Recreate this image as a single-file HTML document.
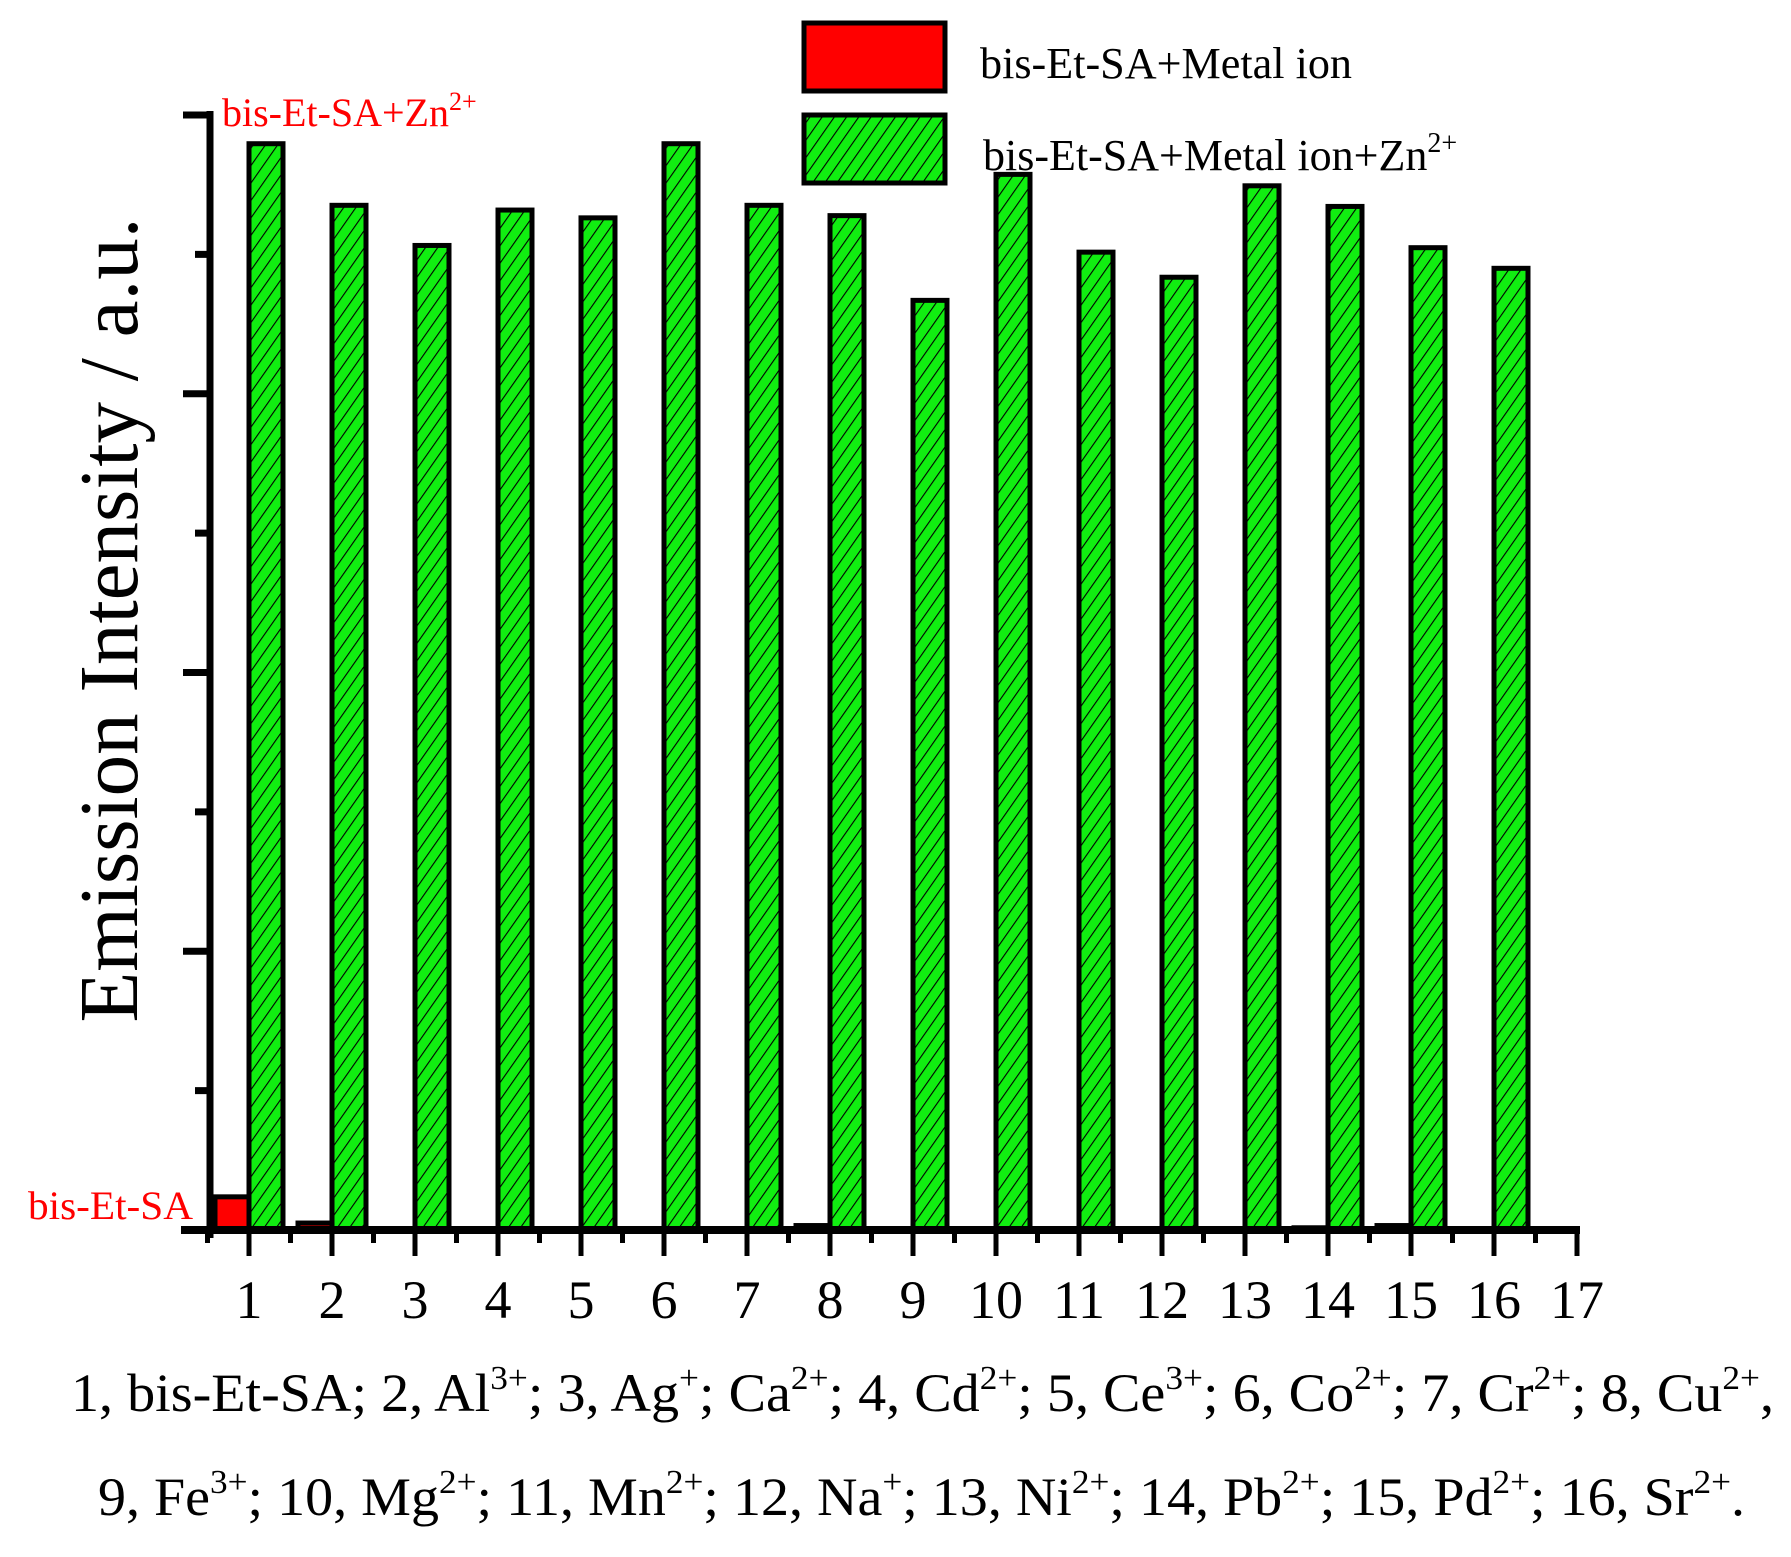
<!DOCTYPE html>
<html><head><meta charset="utf-8"><style>
body{margin:0;background:#fff}
svg{display:block;font-family:"Liberation Serif",serif}
</style></head><body>
<svg id="chart" width="1791" height="1557" viewBox="0 0 1791 1557" xmlns="http://www.w3.org/2000/svg">
<defs>
<pattern id="hatch" patternUnits="userSpaceOnUse" width="10" height="10" patternTransform="rotate(35)">
<rect width="10" height="10" fill="#11ee11"/>
<line x1="0" y1="0" x2="0" y2="10" stroke="#000" stroke-width="2.2"/>
</pattern>
</defs>
<g id="bars"></g>
<g id="axes"></g>
<text transform="translate(137,620) rotate(-90)" text-anchor="middle" font-size="84" textLength="805" lengthAdjust="spacingAndGlyphs">Emission Intensity / a.u.</text>
<text x="222" y="126" fill="#ff0000" font-size="40">bis-Et-SA+Zn<tspan dy="-16" font-size="26">2+</tspan></text>
<text x="28" y="1219" fill="#ff0000" font-size="40" textLength="165" lengthAdjust="spacingAndGlyphs">bis-Et-SA</text>
<g>
<rect x="804" y="23" width="141" height="68" fill="#ff0000" stroke="#000" stroke-width="5"/>
<text x="980" y="78" font-size="44" textLength="372" lengthAdjust="spacingAndGlyphs">bis-Et-SA+Metal ion</text>
<rect x="804" y="115" width="141" height="68" fill="url(#hatch)" stroke="#000" stroke-width="5"/>
<text x="983" y="170" font-size="44">bis-Et-SA+Metal ion+Zn<tspan dy="-18" font-size="28">2+</tspan></text>
</g>
<g font-size="54">
<text x="71" y="1411" textLength="1703" lengthAdjust="spacingAndGlyphs">1, bis-Et-SA; 2, Al<tspan dy="-22" font-size="34">3+</tspan><tspan dy="22">; 3, Ag</tspan><tspan dy="-22" font-size="34">+</tspan><tspan dy="22">; Ca</tspan><tspan dy="-22" font-size="34">2+</tspan><tspan dy="22">; 4, Cd</tspan><tspan dy="-22" font-size="34">2+</tspan><tspan dy="22">; 5, Ce</tspan><tspan dy="-22" font-size="34">3+</tspan><tspan dy="22">; 6, Co</tspan><tspan dy="-22" font-size="34">2+</tspan><tspan dy="22">; 7, Cr</tspan><tspan dy="-22" font-size="34">2+</tspan><tspan dy="22">; 8, Cu</tspan><tspan dy="-22" font-size="34">2+</tspan><tspan dy="22">,</tspan></text>
<text x="98" y="1515" textLength="1647" lengthAdjust="spacingAndGlyphs">9, Fe<tspan dy="-22" font-size="34">3+</tspan><tspan dy="22">; 10, Mg</tspan><tspan dy="-22" font-size="34">2+</tspan><tspan dy="22">; 11, Mn</tspan><tspan dy="-22" font-size="34">2+</tspan><tspan dy="22">; 12, Na</tspan><tspan dy="-22" font-size="34">+</tspan><tspan dy="22">; 13, Ni</tspan><tspan dy="-22" font-size="34">2+</tspan><tspan dy="22">; 14, Pb</tspan><tspan dy="-22" font-size="34">2+</tspan><tspan dy="22">; 15, Pd</tspan><tspan dy="-22" font-size="34">2+</tspan><tspan dy="22">; 16, Sr</tspan><tspan dy="-22" font-size="34">2+</tspan><tspan dy="22">.</tspan></text>
</g>
</svg>
<script>
const categories = [1,2,3,4,5,6,7,8,9,10,11,12,13,14,15,16];
const metalValues = [119,25,3,3,3,3,3,16,3,3,3,3,3,8,16,3];
const metalZnValues = [3897,3676,3532,3659,3631,3897,3676,3639,3335,3787,3508,3418,3746,3672,3524,3450];
const xTickLabels = ["1","2","3","4","5","6","7","8","9","10","11","12","13","14","15","16","17"];
const yMajorTicks = [0,1000,2000,3000,4000];
const yMinorTicks = [500,1500,2500,3500];

const NS = "http://www.w3.org/2000/svg";
const x0 = 249, dx = 83.0, y0 = 1230, yTop = 115, yMax = 4000;
const xs = c => x0 + (c - 1) * dx;
const ys = v => y0 - v / yMax * (y0 - yTop);
const barW = 34;
function mk(tag, attrs, parent){const e=document.createElementNS(NS,tag);for(const k in attrs)e.setAttribute(k,attrs[k]);parent.appendChild(e);return e;}
const bars = document.getElementById('bars');
categories.forEach((c,i)=>{
  const cx = xs(c);
  const r = mk('rect',{x:cx-barW,y:ys(metalValues[i]),width:barW,height:y0-ys(metalValues[i]),fill:'#ff0000',stroke:'#000','stroke-width':5},bars);
  
  
  const g = mk('rect',{x:cx,y:ys(metalZnValues[i]),width:barW,height:y0-ys(metalZnValues[i]),fill:'url(#hatch)',stroke:'#000','stroke-width':5},bars);
  
  
});
const axes = document.getElementById('axes');
const ya = mk('line',{x1:210,y1:yTop-4,x2:210,y2:1238,stroke:'#000','stroke-width':7},axes);


const xa = mk('line',{x1:181,y1:1230,x2:xs(17)+3,y2:1230,stroke:'#000','stroke-width':8},axes);


yMajorTicks.forEach(v=>{
  const t = mk('line',{x1:183,y1:ys(v),x2:210,y2:ys(v),stroke:'#000','stroke-width':7},axes);
  
  
});
yMinorTicks.forEach(v=>{
  const t = mk('line',{x1:195,y1:ys(v),x2:210,y2:ys(v),stroke:'#000','stroke-width':7},axes);
  
  
});
xTickLabels.forEach((lab,i)=>{
  const x = xs(i+1);
  const t = mk('line',{x1:x,y1:1230,x2:x,y2:1256,stroke:'#000','stroke-width':5},axes);
  
  
  const m = mk('line',{x1:x-dx/2,y1:1230,x2:x-dx/2,y2:1243,stroke:'#000','stroke-width':5},axes);
  
  
  const tx = mk('text',{x:x,y:1318,'text-anchor':'middle','font-size':54},axes);
  tx.textContent = lab;
  
  
});
</script>
</body></html>
